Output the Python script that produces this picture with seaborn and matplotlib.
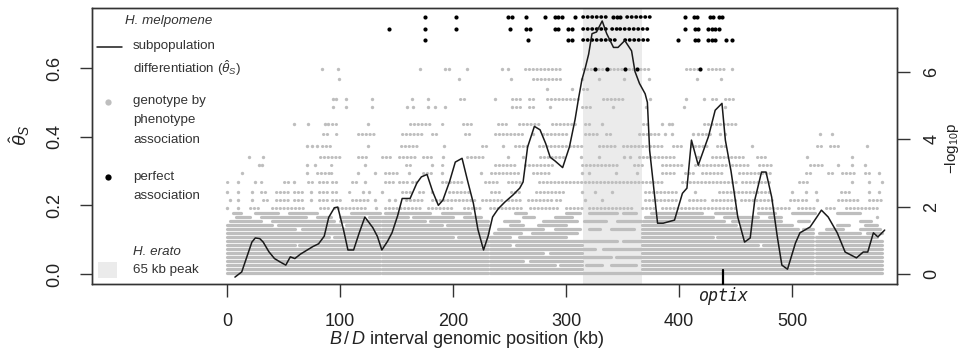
"""
plot.py
Theta_S along the B/D interval with genotype-by-phenotype association p-values.
Saves out.png (961x352).
"""

import matplotlib
matplotlib.use("Agg")
import matplotlib.pyplot as plt
import seaborn as sns
from matplotlib.lines import Line2D
from matplotlib.patches import Rectangle


# ----------------------------------------------------
# Data
# ----------------------------------------------------
position_kb = [7, 13, 22, 25, 29, 32, 37, 42, 47, 52, 56, 60, 65, 72, 76, 81, 86, 90,
               95, 98, 103, 107, 112, 117, 122, 129, 133, 137, 142, 146, 151, 155, 162,
               168, 172, 177, 182, 187, 191, 197, 202, 208, 213, 218, 222, 227, 231, 235,
               240, 246, 253, 259, 262, 266, 272, 277, 282, 286, 290, 297, 303, 308, 311,
               314, 317, 320, 323, 327, 332, 336, 342, 346, 352, 358, 361, 365, 370, 372,
               374, 377, 381, 386, 396, 403, 407, 411, 417, 426, 432, 438, 441, 446, 452,
               458, 463, 467, 473, 477, 482, 487, 491, 496, 503, 507, 516, 522, 526, 532,
               540, 547, 557, 563, 567, 572, 576, 582]
theta_s = [-0.009, 0.006, 0.093, 0.105, 0.103, 0.093, 0.065, 0.045, 0.035, 0.026, 0.05,
           0.045, 0.058, 0.072, 0.08, 0.088, 0.11, 0.165, 0.193, 0.195, 0.13, 0.07, 0.07,
           0.12, 0.166, 0.135, 0.11, 0.07, 0.095, 0.12, 0.17, 0.22, 0.22, 0.265, 0.283,
           0.29, 0.24, 0.2, 0.215, 0.27, 0.326, 0.337, 0.27, 0.206, 0.13, 0.07, 0.11, 0.166,
           0.19, 0.21, 0.23, 0.25, 0.268, 0.37, 0.43, 0.42, 0.38, 0.34, 0.33, 0.31, 0.37,
           0.45, 0.51, 0.565, 0.6, 0.64, 0.70, 0.705, 0.737, 0.70, 0.66, 0.66, 0.68, 0.65,
           0.59, 0.555, 0.525, 0.5, 0.36, 0.27, 0.148, 0.148, 0.157, 0.235, 0.25, 0.39,
           0.317, 0.40, 0.477, 0.497, 0.39, 0.30, 0.166, 0.093, 0.105, 0.215, 0.297, 0.297,
           0.224, 0.108, 0.026, 0.014, 0.09, 0.12, 0.137, 0.166, 0.186, 0.166, 0.12, 0.064,
           0.047, 0.064, 0.064, 0.12, 0.108, 0.128]

# -log10 p rows; "a-b" = a run of adjacent SNPs, "a" = a single SNP (kb)
gray_levels = [0.03, 0.15, 0.27, 0.39, 0.50, 0.62, 0.74, 0.86, 0.98, 1.10, 1.22, 1.34,
               1.46, 1.58, 1.70, 1.82, 1.95, 2.20, 2.45, 2.72, 3.00, 3.25, 3.47, 3.80,
               4.15, 4.45, 4.95, 5.20, 5.50, 5.80, 6.10]
gray_rows = [
    "0-135 137-231 233-519 521-580",
    "0-135 137-231 233-314 367-519 521-580",
    "0-135 137-231 233-290 295-314 318-332 340-362 367-519 521-580",
    "0-135 137-231 233-262 268-314 367-519 521-580",
    "0-135 137-231 233-340 344-519 521-580",
    "0-135 137-231 233-280 286-314 367-519 521-580",
    "0-135 137-231 233-326 333-519 521-580",
    "0-60 64-135 137-231 233-250 256-314 367-470 474-519 521-580",
    "0-135 137-231 233-345 350-519 521-580",
    "0-90 95-135 137-200 204-231 233-250 258-300 367-430 434-519 521-575",
    "0-135 137-231 236-260 270-310 367-519 524-560 566-580",
    "0-60 66-135 137-231 240-280 290-312 320-330 340-360 367-505 510-519 530-545 560-578",
    "0-40 45-100 105-135 137-190 195-231 250-262 275-300 367-450 455-500 540-550 565-575",
    "3-30 40-95 100-135 137-175 180-231 245-258 280-310 316-335 345-366 368-440 447-490 "
    "505-515 560-570",
    "8-20 30-70 80-92 100-120 126-160 165-200 210-225 262-272 290-305 370-430 440-470 "
    "480-490 575",
    "5-12 25-45 55-80 110-135 140-180 190-215 255-265 300-312 320-345 350-362 375-420 "
    "432-450 470-485 500-520 540-560",
    "0 10 20-30 40-70 82-92 95-125 132 140-172 178-200 210-225 233-262 268-292 300-314 "
    "320-358 367-378 385-452 470-500 505-520 530-540 548-575",
    "3 10 22 32-35 43-55 59-66 74 81-90 93-102 111-125 131 143 149 158-173 181-220 226-243 "
    "249-262 266-288 291-297 317 332 370-397 409-423 429-450 455-482 498-506 509-515 522 "
    "541-559 568-580",
    "0 10 22 30-35 43-55 59-66 74 81-90 93-99 108-111 120 126 137 155-164 170-176 181 "
    "196-214 234-243 251-261 273-300 314 326 341 370-400 414 435-482 500 512 521 543-553 "
    "568 577",
    "0-3 10 25 30-33 50-55 59 72-75 81-90 93-99 111-117 122 140-149 152-161 164-170 "
    "190-208 228-240 249-261 276-385 403-450 456-482 506-515 553 568 580",
    "13 71 80-90 92-95 116 131 140-152 161 173-182 190 225 234-258 271-285 314 320 344 363 "
    "385-397 405-414 420-438 453-482 512-517 532-537 544-556 565-568 577",
    "28 31 71 78 92-95 122 158-162 181 190-193 237-255 264-288 314-347 360-368 385-403 "
    "414-444 447-462 471-482 516-529 541 553 565",
    "19 32 82-100 116-124 137-146 152-168 173-182 191 212-229 249 262 277-300 313 329 351 "
    "357 365-397 417 429-459 469-478 513 553",
    "71 75 80 84-94 125 154-171 192 226-230 244 255-268 276-314 329-344 350-388 395-404 "
    "411-425 434-442 465 522-526 534-541 566",
    "85-91 96-99 116-130 155-173 181-187 211-217 237-261 271 280-303 317-329 335-341 "
    "365-384 388 394 412 417 420-429 436 441 525 535",
    "59 72 87 89 93-96 125 162-180 190-193 209-218 240-249 258-276 288-308 317-322 332 "
    "368-374 385 391 394 422-429 433-450",
    "94 105 128 159 165 178 184 193 252 256-259 267-273 286 314-323 342 371 404 441",
    "94 96 105 128 164 178 206-212 237 252-261 267-273 283-311 333-351 374 406 422 "
    "429-435 441-450",
    "283 305 315-320",
    "99 205 251 271-295 314 329 351 373 416 437",
    "84 98 171 193 196 212 243 249 264-295 315-374 406-417 426-441 447",
]

black_levels = [7.63, 7.28, 6.95, 6.10]
black_rows = [
    "175 203 249 252 265 281 290 293 296 308 315-339 342 345 348 354-374 405 413 416 427 "
    "430 435 438",
    "143 175 203 250 265 268 290 293 302 305 315-339 341-346 348-374 405 414 417 426 429 "
    "432 435",
    "175 266 302 305 315-346 352-375 399 414 417 426 429 432 442 447",
    "326 336 352 363 419",
]

erato_peak = (315, 367)
optix_kb = 439
dense_top = 1.9  # rows below this level form the solid band

GRAY = "#bebebe"
SHADE = "#ebebeb"
LINE = "#1a1a1a"


def parse_rows(levels, rows):
    dot_x, dot_y, runs = [], [], []
    for level, row in zip(levels, rows):
        for tok in row.split():
            if "-" in tok:
                a, b = tok.split("-")
                runs.append((level, float(a), float(b)))
            else:
                dot_x.append(float(tok))
                dot_y.append(level)
    return dot_x, dot_y, runs


def draw_runs(ax, runs, color, lw, dotted, zorder):
    if not runs:
        return
    ls = (0, (0.1, 1.15)) if dotted else "solid"
    ax.hlines([r[0] for r in runs], [r[1] for r in runs], [r[2] for r in runs],
              colors=color, lw=lw, linestyles=[ls], capstyle="round", zorder=zorder)


def fx(px):
    return px / 961


def fy(py):
    return 1 - py / 352


# ----------------------------------------------------
# Plot
# ----------------------------------------------------
sns.set_theme(style="white")
plt.rcParams["font.family"] = ["Liberation Sans", "DejaVu Sans"]
plt.rcParams["mathtext.fontset"] = "custom"
plt.rcParams["mathtext.rm"] = "Liberation Sans"
plt.rcParams["mathtext.it"] = "Liberation Sans:italic"

fig = plt.figure(figsize=(9.61, 3.52), dpi=100)
ax_p = fig.add_axes([fx(92), fy(284), fx(897) - fx(92), fy(8) - fy(284)])
ax_t = ax_p.twinx()

# H. erato peak
ax_p.axvspan(*erato_peak, color=SHADE, lw=0, zorder=0)

# association p-values
gx, gy, gruns = parse_rows(gray_levels, gray_rows)
draw_runs(ax_p, [r for r in gruns if r[0] < dense_top], GRAY, 2.3, False, 1)
draw_runs(ax_p, [r for r in gruns if r[0] >= dense_top], GRAY, 2.2, True, 1)
sns.scatterplot(x=gx, y=gy, ax=ax_p, color=GRAY, s=6, linewidth=0, zorder=1)

bx, by, bruns = parse_rows(black_levels, black_rows)
draw_runs(ax_p, bruns, "black", 2.6, True, 2)
sns.scatterplot(x=bx, y=by, ax=ax_p, color="black", s=9, linewidth=0, zorder=2)

# theta_S line
sns.lineplot(x=position_kb, y=theta_s, ax=ax_t, color=LINE, lw=1.1,
             sort=False, estimator=None)

ax_p.set_xlim(-119.5, 592.9)
ax_p.set_ylim(-0.297, 7.90)
ax_t.set_ylim(-0.0291, 0.7748)

ax_p.set_xticks([0, 100, 200, 300, 400, 500])
ax_p.set_yticks([0, 2, 4, 6])
ax_t.set_yticks([0, 0.2, 0.4, 0.6])
ax_t.set_yticklabels(["0.0", "0.2", "0.4", "0.6"])
ax_p.yaxis.tick_right()
ax_t.yaxis.tick_left()
for a in (ax_p, ax_t):
    a.set_xlabel("")
    a.set_ylabel("")
    for s in a.spines.values():
        s.set_color("#333333")
        s.set_linewidth(1.0)

tick_kw = dict(direction="out", length=9, width=1.0, color="#333333",
               labelsize=13, labelcolor="#222222")
ax_p.tick_params(axis="x", pad=12, bottom=True, **tick_kw)
ax_p.tick_params(axis="y", pad=10, right=True, left=False, labelright=True,
                 labelleft=False, labelrotation=90, **tick_kw)
ax_t.tick_params(axis="y", pad=12, left=True, right=False, labelleft=True,
                 labelright=False, labelrotation=90, **tick_kw)
for lab in ax_p.get_yticklabels() + ax_t.get_yticklabels():
    lab.set_verticalalignment("center")

# optix marker
ax_t.plot([optix_kb, optix_kb], [-0.0291, 0.012], color="black", lw=1.6,
          clip_on=False, zorder=5)
fig.text(fx(723), fy(296), "optix", family="DejaVu Sans Mono", style="italic",
         size=12, ha="center", va="center", color="#222222")

# axis titles
fig.text(fx(467), fy(340), r"$B\,/\,D$ interval genomic position (kb)",
         size=13, ha="center", va="center", color="#222222")
fig.text(fx(20), fy(135), r"$\hat{\theta}_S$", size=14, rotation=90,
         ha="center", va="center", color="#222222")
fig.text(fx(952), fy(148), r"$\mathrm{-log_{10}p}$", size=11, rotation=90,
         ha="center", va="center", color="#222222")

# legend (drawn by hand, top-left inside the box)
lg = dict(size=9.6, ha="left", va="center", color="#333333")
fig.text(fx(125), fy(21), "H. melpomene", style="italic", **lg)
fig.add_artist(Line2D([fx(97), fx(122)], [fy(47), fy(47)], color=LINE, lw=1.1,
                      transform=fig.transFigure))
fig.text(fx(133), fy(46), "subpopulation", **lg)
fig.text(fx(133), fy(68), r"differentiation ($\hat{\theta}_S$)", **lg)
fig.add_artist(Line2D([fx(108)], [fy(102)], marker="o", ms=4.5, color=GRAY,
                      mec="none", ls="none", transform=fig.transFigure))
fig.text(fx(133), fy(101), "genotype by", **lg)
fig.text(fx(133), fy(120), "phenotype", **lg)
fig.text(fx(133), fy(140), "association", **lg)
fig.add_artist(Line2D([fx(108)], [fy(177)], marker="o", ms=4.5, color="black",
                      mec="none", ls="none", transform=fig.transFigure))
fig.text(fx(133), fy(177), "perfect", **lg)
fig.text(fx(133), fy(196), "association", **lg)
fig.text(fx(133), fy(252), "H. erato", style="italic", **lg)
fig.add_artist(Rectangle((fx(98), fy(278)), fx(117) - fx(98), fy(262) - fy(278),
                         color=SHADE, lw=0, transform=fig.transFigure))
fig.text(fx(133), fy(270), "65 kb peak", **lg)

fig.savefig("out.png", dpi=100)
plt.close(fig)
